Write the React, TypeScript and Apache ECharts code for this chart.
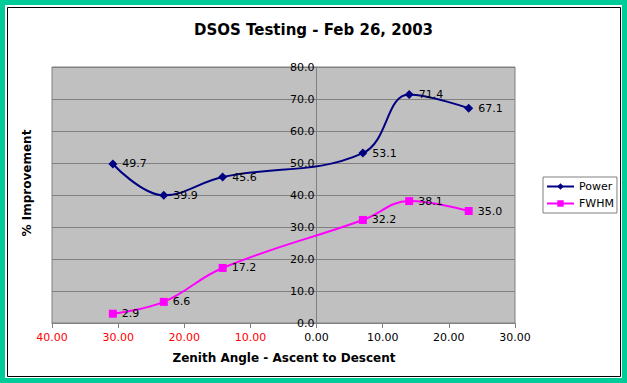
import React, { useEffect, useRef } from "react";
import * as echarts from "echarts";

const zenithAngles = [-30.8, -23.1, -14.2, 7.0, 14.0, 23.0];
const powerValues = [49.7, 39.9, 45.6, 53.1, 71.4, 67.1];
const fwhmValues = [2.9, 6.6, 17.2, 32.2, 38.1, 35.0];
const seriesNames = ["Power", "FWHM"];
const titleText = "DSOS Testing - Feb 26, 2003";
const xAxisName = "Zenith Angle - Ascent to Descent";
const yAxisName = "% Improvement";

const FONT = "'DejaVu Sans', Verdana, sans-serif";
const X_MIN = -40;
const X_MAX = 30;
const GRID_LEFT = 52;
const GRID_RIGHT = 112;
const WIDTH = 627;

export default function App() {
  const ref = useRef<HTMLDivElement>(null);
  useEffect(() => {
    if (!ref.current) return;
    const chart = echarts.init(ref.current, null, { renderer: "svg" });
    const pair = (vals: number[]) => zenithAngles.map((x, i) => [x, vals[i]]);
    const gridWidth = WIDTH - GRID_LEFT - GRID_RIGHT;
    const zeroOffset = (gridWidth * (0 - X_MIN)) / (X_MAX - X_MIN);
    chart.setOption({
      animation: false,
      backgroundColor: "#ffffff",
      textStyle: { fontFamily: FONT },
      title: {
        text: titleText,
        left: "center",
        top: 17,
        textStyle: { fontFamily: FONT, fontSize: 15, fontWeight: "bold", color: "#000" },
      },
      graphic: [
        {
          type: "rect",
          shape: { x: 2.5, y: 2.5, width: 622, height: 378 },
          style: { fill: "none", stroke: "#00CC99", lineWidth: 5 },
          silent: true,
        },
        {
          type: "rect",
          shape: { x: 7.5, y: 7.5, width: 613, height: 369 },
          style: { fill: "none", stroke: "#000000", lineWidth: 1 },
          silent: true,
        },
        {
          type: "text",
          x: 27,
          y: 183,
          rotation: Math.PI / 2,
          style: {
            text: yAxisName,
            fontFamily: FONT,
            fontSize: 12,
            fontWeight: "bold",
            fill: "#000",
            align: "center",
            verticalAlign: "middle",
          },
        },
        {
          type: "text",
          x: 284,
          y: 358,
          style: {
            text: xAxisName,
            fontFamily: FONT,
            fontSize: 12,
            fontWeight: "bold",
            fill: "#000",
            align: "center",
            verticalAlign: "middle",
          },
        },
      ],
      legend: {
        orient: "vertical",
        left: 543,
        top: 177,
        data: seriesNames,
        itemWidth: 27,
        itemHeight: 8,
        itemGap: 6,
        padding: [4, 3, 4, 3],
        borderColor: "#808080",
        borderWidth: 1,
        backgroundColor: "#ffffff",
        textStyle: { fontFamily: FONT, fontSize: 11, color: "#000" },
      },
      grid: {
        left: GRID_LEFT,
        right: GRID_RIGHT,
        top: 67,
        bottom: 60,
        show: true,
        backgroundColor: "#c0c0c0",
        borderColor: "#808080",
        borderWidth: 1,
      },
      xAxis: {
        type: "value",
        min: X_MIN,
        max: X_MAX,
        interval: 10,
        axisLine: { show: true, onZero: false, lineStyle: { color: "#808080" } },
        axisTick: { show: true, length: 5, lineStyle: { color: "#808080" } },
        splitLine: { show: false },
        axisLabel: {
          margin: 9,
          formatter: (v: number) => (v < 0 ? `{r|${Math.abs(v).toFixed(2)}}` : `{b|${v.toFixed(2)}}`),
          rich: {
            r: { color: "#ff0000", fontFamily: FONT, fontSize: 11 },
            b: { color: "#000000", fontFamily: FONT, fontSize: 11 },
          },
        },
      },
      yAxis: {
        type: "value",
        min: 0,
        max: 80,
        interval: 10,
        position: "left",
        offset: -zeroOffset,
        axisLine: { show: true, onZero: false, lineStyle: { color: "#808080" } },
        axisTick: { show: false },
        splitLine: { show: true, lineStyle: { color: "#808080", width: 1 } },
        axisLabel: {
          margin: 2,
          color: "#000",
          fontFamily: FONT,
          fontSize: 11,
          formatter: (v: number) => v.toFixed(1),
        },
      },
      series: [
        {
          name: seriesNames[0],
          type: "line",
          data: pair(powerValues),
          smooth: 0.4,
          symbol: "diamond",
          symbolSize: 9,
          lineStyle: { color: "#000080", width: 2 },
          itemStyle: { color: "#000080" },
          label: {
            show: true,
            position: "right",
            distance: 5,
            color: "#000",
            fontFamily: FONT,
            fontSize: 11,
            formatter: (p: any) => p.value[1].toFixed(1),
          },
        },
        {
          name: seriesNames[1],
          type: "line",
          data: pair(fwhmValues),
          smooth: 0.4,
          symbol: "rect",
          symbolSize: 8,
          lineStyle: { color: "#ff00ff", width: 2 },
          itemStyle: { color: "#ff00ff" },
          label: {
            show: true,
            position: "right",
            distance: 5,
            color: "#000",
            fontFamily: FONT,
            fontSize: 11,
            formatter: (p: any) => p.value[1].toFixed(1),
          },
        },
      ],
    });
    return () => chart.dispose();
  }, []);
  return <div ref={ref} style={{ position: "absolute", left: 0, top: 0, width: 627, height: 383 }} />;
}
